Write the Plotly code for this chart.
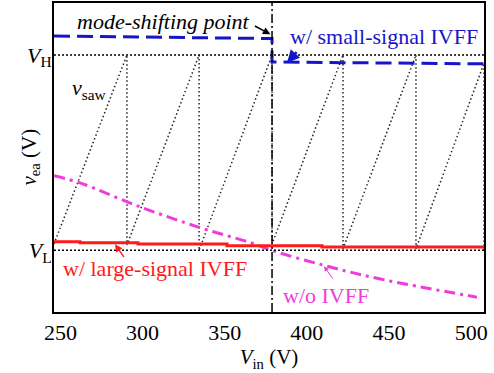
import plotly.graph_objects as go

# ---- data (Vin in V, v_ea in arbitrary units) ----
x_range = [246.1, 507.8]
y_range = [0, 10]
VL = 2.0
VH = 8.32
mode_shift_vin = 378.8

x_ticks = [250, 300, 350, 400, 450, 500]
x_tick_labels = ["250", "300", "350", "400", "450", "500"]
y_ticks = [VL, VH]
y_tick_labels = ["<i>V</i><sub>L</sub>", "<i>V</i><sub>H</sub>"]

saw_x = [246.1, 290.5, 290.5, 334.4, 334.4, 378.8, 378.8, 422.0, 422.0, 466.4, 466.4, 507.8, 507.8]
saw_y = [2.2, 8.32, 2.17, 8.32, 2.0, 8.32, 2.2, 8.32, 2.05, 8.32, 2.05, 8.05, 2.0]

small_x = [246.1, 378.8, 378.8, 507.8]
small_y = [8.93, 8.85, 8.09, 8.03]

large_x = [246.1, 261.9, 297.2, 351.4, 409.2, 507.8]
large_y = [2.27, 2.24, 2.20, 2.14, 2.10, 2.10]

noff_x = [246.1, 261.9, 296.6, 335.0, 365.4, 378.8, 410.4, 442.7, 503.5]
noff_y = [4.41, 4.18, 3.44, 2.73, 2.25, 1.99, 1.51, 1.09, 0.48]

FONT = "Liberation Serif"
BLUE = "#1616C8"
RED = "#FF1A1A"
MAG = "#F03CDC"

fig = go.Figure()

fig.add_hline(y=VH, line=dict(color="black", width=1.5, dash="2px,2px"))
fig.add_hline(y=VL, line=dict(color="black", width=1.5, dash="2px,2px"))

fig.add_trace(go.Scatter(x=saw_x, y=saw_y, mode="lines",
                         line=dict(color="#222222", width=1.5, dash="1.5px,2.5px"),
                         showlegend=False))
fig.add_vline(x=mode_shift_vin, line=dict(color="black", width=1.5, dash="9px,3px,2px,3px"))

fig.add_trace(go.Scatter(x=noff_x, y=noff_y, mode="lines", line_shape="spline",
                         line=dict(color=MAG, width=3, dash="11px,5px,3px,5px"),
                         showlegend=False))
fig.add_trace(go.Scatter(x=large_x, y=large_y, mode="lines", line_shape="hv",
                         line=dict(color=RED, width=3), showlegend=False))
fig.add_trace(go.Scatter(x=small_x, y=small_y, mode="lines",
                         line=dict(color=BLUE, width=3, dash="16px,7px"),
                         showlegend=False))

def txt(x, y, s, color, italic=False):
    fig.add_annotation(x=x, y=y, text=("<i>%s</i>" % s) if italic else s,
                       showarrow=False, font=dict(family=FONT, size=22, color=color),
                       xanchor="center", yanchor="middle")

def arrow(x, y, ax, ay, color, width):
    fig.add_annotation(x=x, y=y, ax=ax, ay=ay, text="", showarrow=True,
                       arrowhead=2, arrowsize=1.0, arrowwidth=width, arrowcolor=color)

txt(312.5, 9.39, "mode-shifting point", "black", italic=True)
arrow(377.8, 8.99, -17, -9, "black", 1.5)
txt(446.9, 8.91, "w/ small-signal IVFF", BLUE)
arrow(387.9, 8.07, 11, -12, BLUE, 2.5)
fig.add_annotation(x=267.4, y=7.23, text="<i>v</i><sub>saw</sub>", showarrow=False,
                   font=dict(family=FONT, size=22, color="black"))
txt(307.6, 1.41, "w/ large-signal IVFF", RED)
arrow(283.2, 2.19, 10, 14, RED, 1.5)
txt(411.6, 0.55, "w/o IVFF", MAG)
arrow(410.4, 1.48, 10, 14, MAG, 1)

# y-axis title placed as rotated annotation
fig.add_annotation(xref="paper", yref="paper", x=0, y=0.50, xshift=-25,
                   text="<i>v</i><sub>ea</sub> (V)", textangle=-90, showarrow=False,
                   xanchor="center", yanchor="middle",
                   font=dict(family=FONT, size=21, color="black"))

fig.update_xaxes(range=x_range, tickvals=x_ticks, ticktext=x_tick_labels,
                 showline=True, mirror=True, linecolor="black", linewidth=2,
                 showgrid=False, zeroline=False, ticks="",
                 tickfont=dict(family=FONT, size=22, color="black"),
                 title=dict(text="<i>V</i><sub>in</sub> (V)", standoff=4,
                            font=dict(family=FONT, size=21, color="black")))
fig.update_yaxes(range=y_range, tickvals=y_ticks, ticktext=y_tick_labels,
                 showline=True, mirror=True, linecolor="black", linewidth=2,
                 showgrid=False, zeroline=False, ticks="", ticklabelstandoff=-4,
                 tickfont=dict(family=FONT, size=22, color="black"))

fig.update_layout(width=494, height=373, margin=dict(l=54, r=10, t=1, b=61),
                  paper_bgcolor="white", plot_bgcolor="white",
                  font=dict(family=FONT))

fig.write_html("out.html")
